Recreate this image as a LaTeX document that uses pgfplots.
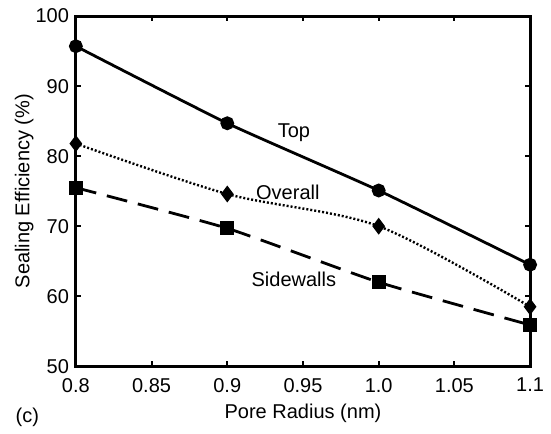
\documentclass[border=0pt]{standalone}
\usepackage{fontspec}
\setmainfont{Liberation Sans}
\usepackage{pgfplots}
\pgfplotsset{compat=1.18}

\begin{document}
\fontsize{20}{24}\selectfont
\begin{tikzpicture}
\begin{axis}[
  scale only axis, width=454pt, height=350pt,
  xmin=0.8, xmax=1.1, ymin=50, ymax=100,
  xtick={0.8,0.85,0.9,0.95,1.0,1.05,1.1},
  xticklabels={0.8,0.85,0.9,0.95,1.0,1.05,1.1},
  ytick={50,60,70,80,90,100},
  tick align=inside, major tick length=5pt,
  tick style={line width=2pt, black},
  axis line style={line width=3pt},
  /pgf/number format/assume math mode=true,
  ticklabel style={font=\fontsize{20}{24}\selectfont},
  xticklabel style={yshift=-5pt},
  label style={font=\fontsize{20}{24}\selectfont},
  xlabel={Pore Radius (nm)},
  ylabel={Sealing Efficiency (\%)},
  xlabel style={at={(axis description cs:0.5,-0.134)}, anchor=center},
  ylabel style={at={(axis description cs:-0.114,0.5)}, anchor=center},
  clip=false,
]
\addplot[black, line width=2.8pt, smooth, tension=0.3, mark=*, mark size=5.5pt,
  mark options={solid}] coordinates {
  (0.8,95.7) (0.9,84.7) (1.0,75.1) (1.1,64.5)};
\addplot[black, line width=2.4pt, smooth, tension=0.5, dash pattern=on 2pt off 2pt,
  mark=diamond*, mark size=6.5pt, mark options={solid}] coordinates {
  (0.8,81.8) (0.9,74.6) (1.0,70.0) (1.1,58.5)};
\addplot[black, line width=2.8pt, smooth, tension=0.3, dash pattern=on 21pt off 11pt,
  mark=square*, mark size=5.5pt, mark options={solid}] coordinates {
  (0.8,75.5) (0.9,69.7) (1.0,62.0) (1.1,55.9)};
\node at (axis cs:0.944,83.4) {Top};
\node at (axis cs:0.940,74.8) {Overall};
\node at (axis cs:0.944,62.4) {Sidewalls};
\node at (axis description cs:-0.107,-0.146) {(c)};
% page margins as in the reference
\path (axis description cs:-0.167,-0.171) (axis description cs:1.046,1.046);
\end{axis}
\end{tikzpicture}
\end{document}
